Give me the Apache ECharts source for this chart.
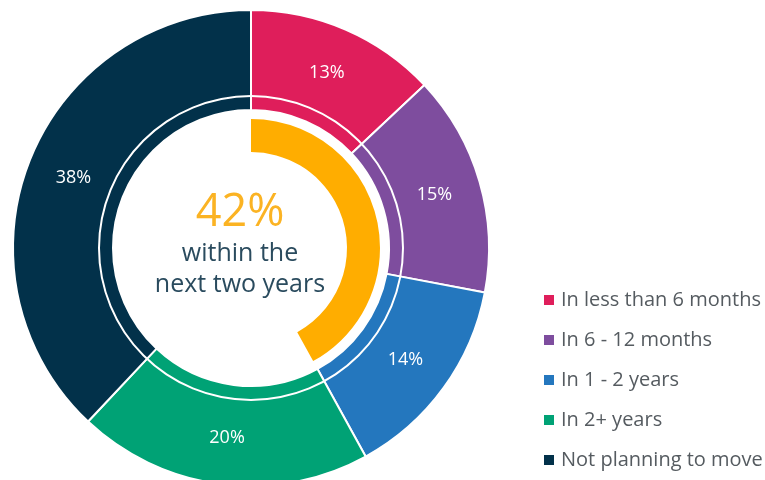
<!DOCTYPE html>
<html>
<head>
<meta charset="utf-8">
<script src="https://cdn.jsdelivr.net/npm/echarts@6/dist/echarts.min.js"></script>
<style>
  html, body { margin: 0; padding: 0; background: #ffffff; }
  #chart { width: 765px; height: 480px; }
</style>
</head>
<body>
<div id="chart"></div>
<script>
// Moving timeframe breakdown
const categories = ['In less than 6 months', 'In 6 - 12 months', 'In 1 - 2 years', 'In 2+ years', 'Not planning to move'];
const shares = [13, 15, 14, 20, 38];
const colors = ['#df1e5b', '#7e4d9e', '#2477be', '#00a275', '#02314a'];

// Share of respondents moving within two years (first three groups)
const withinTwoYears = 42;
const headline = withinTwoYears + '%';
const subLines = ['within the', 'next two years'];

const FONT = '"Open Sans", Lato, sans-serif';
const center = [251, 248];

const chart = echarts.init(document.getElementById('chart'), null, { renderer: 'canvas' });

chart.setOption({
  animation: false,
  backgroundColor: '#ffffff',
  color: colors,
  legend: {
    data: categories,
    orient: 'vertical',
    left: 537,
    top: 285,
    icon: 'rect',
    itemWidth: 12,
    itemHeight: 12,
    itemGap: 20,
    textStyle: { fontFamily: FONT, fontSize: 20, color: '#555b60', padding: [0, 0, 0, 1] },
    selectedMode: false
  },
  graphic: [
    {
      type: 'text', x: 240, y: 213,
      style: { text: headline, align: 'center', verticalAlign: 'middle', fontFamily: FONT, fontSize: 45, fill: '#fbb323' }
    },
    {
      type: 'text', x: 240, y: 254,
      style: { text: subLines[0], align: 'center', verticalAlign: 'middle', fontFamily: FONT, fontSize: 25, fill: '#2a4b5e' }
    },
    {
      type: 'text', x: 240, y: 285,
      style: { text: subLines[1], align: 'center', verticalAlign: 'middle', fontFamily: FONT, fontSize: 25, fill: '#2a4b5e' }
    }
  ],
  series: [
    {
      name: 'Timeframe',
      type: 'pie',
      center: center,
      radius: [138, 238],
      startAngle: 90,
      clockwise: true,
      avoidLabelOverlap: false,
      silent: true,
      itemStyle: { borderColor: '#ffffff', borderWidth: 2 },
      label: {
        show: true,
        position: 'inside',
        formatter: '{c}%',
        color: '#ffffff',
        fontFamily: FONT,
        fontSize: 18
      },
      labelLine: { show: false },
      data: categories.map((name, i) => ({ name: name, value: shares[i] }))
    },
    {
      // thin white separator circle inside the ring
      name: 'separator',
      type: 'pie',
      center: center,
      radius: [151, 153],
      silent: true,
      label: { show: false },
      labelLine: { show: false },
      itemStyle: { color: '#ffffff' },
      data: [{ name: 'sep', value: 1 }]
    },
    {
      name: 'Within two years',
      type: 'pie',
      center: center,
      radius: [96, 129],
      startAngle: 90,
      clockwise: true,
      silent: true,
      label: { show: false },
      labelLine: { show: false },
      data: [
        { name: 'within', value: withinTwoYears, itemStyle: { color: '#ffad00' } },
        { name: 'rest', value: 100 - withinTwoYears, itemStyle: { color: 'rgba(0,0,0,0)' } }
      ]
    }
  ]
});
</script>
</body>
</html>
